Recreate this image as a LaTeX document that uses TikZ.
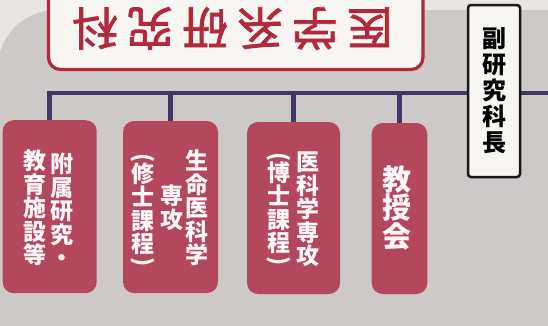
\documentclass[tikz,border=0pt]{standalone}
\usepackage{fontspec}
\usepackage{graphicx}
\newfontfamily\jp{Noto Sans CJK JP}
\newfontfamily\jpmid{Noto Sans CJK JP}[FakeBold=1.6]
\definecolor{bgout}{HTML}{E8E5E2}
\definecolor{bggrey}{HTML}{CDC9C8}
\definecolor{boxred}{HTML}{B3475C}
\definecolor{titlered}{HTML}{B02A3C}
\definecolor{navy}{HTML}{3F3966}
\definecolor{paper}{HTML}{F8F6F3}
\newcommand{\vlp}{\rotatebox[origin=c]{-90}{(}}
\newcommand{\vrp}{\rotatebox[origin=c]{-90}{)}}
\lineskiplimit=-100pt
\tikzset{
  redbox/.style={rectangle, fill=boxred, rounded corners=11pt, inner sep=0pt},
  col/.style={inner sep=0pt, anchor=north, align=center, text=white!97!red,
    font=\jp\bfseries\fontsize{23}{23.4}\selectfont},
  bigcol/.style={col, font=\jp\bfseries\fontsize{29}{28.5}\selectfont},
  bus/.style={draw=navy, line width=4.5pt, line join=miter},
  topbox/.style={rectangle, draw=titlered, line width=3.2pt, fill=paper, rounded corners=12pt,
    minimum width=374.5pt, minimum height=99.5pt, inner sep=0pt},
  toptext/.style={inner sep=0pt, text=titlered, font=\jpmid\fontsize{46}{46}\selectfont},
  vicebox/.style={rectangle, draw=black!90, line width=2.5pt, fill=paper, rounded corners=3pt,
    minimum width=52pt, minimum height=172pt, inner sep=0pt, align=center,
    font=\jp\bfseries\fontsize{24}{26}\selectfont}
}
\begin{document}
\begin{tikzpicture}[x=1pt,y=-1pt]
\useasboundingbox (0,0) rectangle (548,325);
\clip (0,0) rectangle (548,325);
% background
\fill[bgout] (-5,-5) rectangle (553,330);
\fill[bggrey] (-2,340) -- (-2,68) arc[start angle=180, end angle=270, radius=58] -- (560,10) -- (560,340) -- cycle;
% top box
\node[topbox] (top) at (235.75,19.75) {};
\node[toptext, rotate=180] (toptitle) at (232.5,28.5) {医\hspace{9pt}学\hspace{9pt}系\hspace{9pt}研\hspace{9pt}究\hspace{9pt}科};
% red boxes
\node[redbox, minimum width=94pt, minimum height=173pt] (b1) at (49.7,206.7) {};
\node[redbox, minimum width=95pt, minimum height=172pt] (b2) at (170.5,207) {};
\node[redbox, minimum width=93pt, minimum height=172pt] (b3) at (293.5,208) {};
\node[redbox, minimum width=55.6pt, minimum height=171pt] (b4) at (399.5,208.5) {};
% bus
\coordinate (busY) at (0,93);
\coordinate (busR) at (552,93);
\draw[bus] (b1.north) -- (b1.north |- busY) -- (busR);
\draw[bus] (b2.north) -- (b2.north |- busY);
\draw[bus] (b3.north) -- (b3.north |- busY);
\draw[bus] (b4.north) -- (b4.north |- busY);
% vice director box
\node[vicebox] (vice) at (494,91) {副\\研\\究\\科\\長};
% texts
\node[col] (t1a) at (61.7,153) {附\\属\\研\\究\\・};
\node[col] (t1b) at (35,150) {教\\育\\施\\設\\等};
\node[col] (t2a) at (196.7,150) {生\\命\\医\\科\\学};
\node[col] (t2b) at (171.7,185) {専\\攻};
\node[col] (t2c) at (143,153) {\vlp\\[-6.1pt]修\\士\\課\\程\\[-7pt]\vrp};
\node[col] (t3a) at (307.5,152) {医\\科\\学\\専\\攻};
\node[col] (t3b) at (279,152) {\vlp\\[-6.1pt]博\\士\\課\\程\\[-7pt]\vrp};
\node[bigcol] (t4) at (396.5,165) {教\\授\\会};
\end{tikzpicture}
\end{document}
